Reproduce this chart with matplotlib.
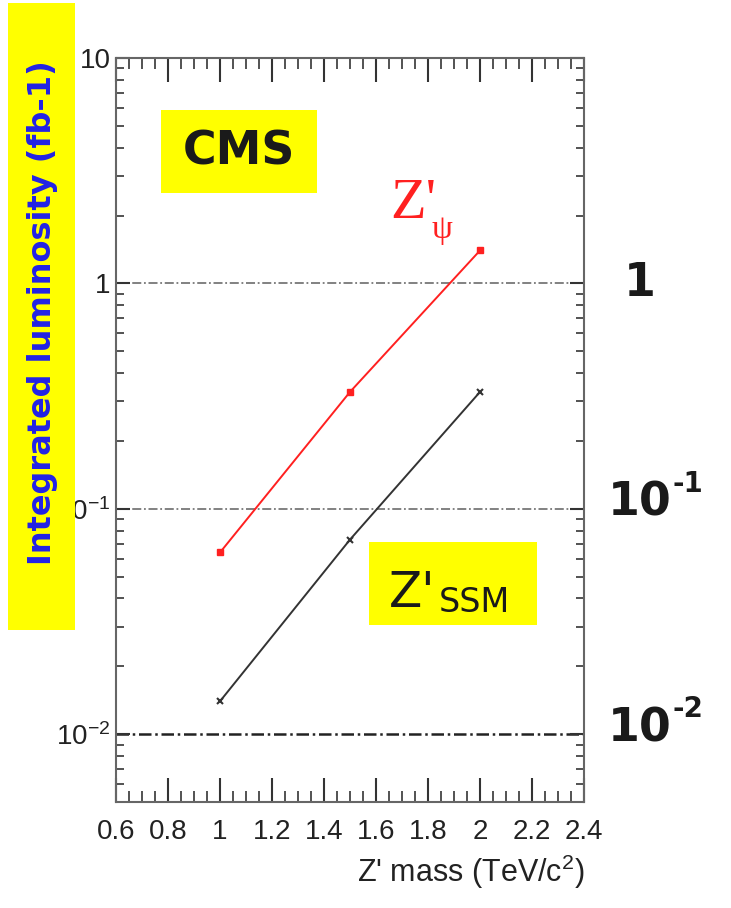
import matplotlib
matplotlib.use("Agg")
import matplotlib.pyplot as plt
from matplotlib.patches import Rectangle
from matplotlib.ticker import FixedLocator, MultipleLocator, LogLocator, NullFormatter

# data
mass = [1.0, 1.5, 2.0]
lumi_psi = [0.064, 0.33, 1.40]
lumi_ssm = [0.014, 0.073, 0.33]

ref_levels = [1, 0.1, 0.01]
ytick_vals = [10, 1, 0.1, 0.01]
ytick_text = ["10", "1", "$10^{-1}$", "$10^{-2}$"]
xtick_vals = [0.6, 0.8, 1.0, 1.2, 1.4, 1.6, 1.8, 2.0, 2.2, 2.4]
xtick_text = ["0.6", "0.8", "1", "1.2", "1.4", "1.6", "1.8", "2", "2.2", "2.4"]

plt.rcParams['font.family'] = ['Liberation Sans', 'DejaVu Sans']
plt.rcParams['mathtext.default'] = 'regular'

fig = plt.figure(figsize=(7.31, 9.08), dpi=100)
ax = fig.add_axes([0.1587, 0.1167, 0.6402, 0.8194])

ax.set_yscale('log')
ax.set_xlim(0.6, 2.4)
ax.set_ylim(0.005, 10)

# reference lines
for lv in ref_levels:
    col = '#222222' if lv == 0.01 else '#777777'
    lw = 1.8 if lv == 0.01 else 1.3
    ax.axhline(lv, color=col, lw=lw, ls=(0, (5, 1.5, 1, 1.5)), zorder=1)

ax.plot(mass, lumi_psi, color='#ff2020', lw=1.4, marker='s', ms=5, zorder=3)
ax.plot(mass, lumi_ssm, color='#333333', lw=1.4, marker='x', ms=5, mew=1.5, zorder=3)

# ticks
ax.xaxis.set_major_locator(FixedLocator(xtick_vals))
ax.set_xticklabels(xtick_text)
ax.xaxis.set_minor_locator(MultipleLocator(0.05))
ax.yaxis.set_major_locator(FixedLocator(ytick_vals))
ax.set_yticklabels(ytick_text)
ax.yaxis.set_minor_locator(LogLocator(base=10, subs=range(2, 10)))
ax.yaxis.set_minor_formatter(NullFormatter())

ax.tick_params(axis='x', which='major', direction='in', top=True, length=17, width=1.5,
               labelsize=20, pad=12, colors='#333333', labelcolor='#222222')
ax.tick_params(axis='x', which='minor', direction='in', top=True, length=8, width=1.3, colors='#444444')
ax.tick_params(axis='y', which='major', direction='in', right=True, length=10, width=1.5,
               labelsize=20, pad=4, colors='#333333', labelcolor='#222222')
ax.tick_params(axis='y', which='minor', direction='in', right=True, length=6, width=1.3, colors='#444444')
for sp in ax.spines.values():
    sp.set_color('#666666')
    sp.set_linewidth(1.5)

ax.set_xlabel("Z' mass (TeV/c$^2$)", fontsize=22, color='#222222', loc='right', labelpad=6)

# CMS box
ax.add_patch(Rectangle((0.0962, 0.8185), 0.3333, 0.1116, transform=ax.transAxes,
                       facecolor='#ffff00', edgecolor='none', zorder=4))
ax.text(0.263, 0.874, "CMS", transform=ax.transAxes, ha='center', va='center',
        fontsize=33, fontweight='bold', family='DejaVu Sans', color='#1a1a1a', zorder=5)

# Z'_psi label
ax.text(0.585, 0.785, "Z'", transform=ax.transAxes, fontsize=42, family='Liberation Serif',
        color='#ff2020', zorder=5)
ax.text(0.675, 0.758, "ψ", transform=ax.transAxes, fontsize=24, family='Liberation Serif',
        color='#ff2020', zorder=5)

# Z'_SSM box
ax.add_patch(Rectangle((0.5406, 0.2379), 0.359, 0.1116, transform=ax.transAxes,
                       facecolor='#ffff00', edgecolor='none', zorder=4))
ax.text(0.583, 0.262, "Z'", transform=ax.transAxes, fontsize=35, family='DejaVu Sans',
        color='#1a1a1a', zorder=5)
ax.text(0.690, 0.255, "SSM", transform=ax.transAxes, fontsize=24, family='DejaVu Sans',
        color='#1a1a1a', zorder=5)

# right-hand decade labels
ax.annotate("1", xy=(1.12, 1), xycoords=('axes fraction', 'data'), ha='center', va='center',
            fontsize=33, fontweight='bold', family='DejaVu Sans', color='#1a1a1a',
            annotation_clip=False)
for lv, sup in [(0.1, "-1"), (0.01, "-2")]:
    ax.annotate("10", xy=(1.05, lv), xycoords=('axes fraction', 'data'), ha='left', va='center',
                xytext=(0, 4), textcoords='offset points',
                fontsize=33, fontweight='bold', family='DejaVu Sans', color='#1a1a1a',
                annotation_clip=False)
    ax.annotate(sup, xy=(1.05, lv), xycoords=('axes fraction', 'data'), ha='left', va='bottom',
                xytext=(47, 8), textcoords='offset points',
                fontsize=20, fontweight='bold', family='DejaVu Sans', color='#1a1a1a',
                annotation_clip=False)

# y label on yellow strip
fig.patches.append(Rectangle((0.0109, 0.3062), 0.0917, 0.6905, transform=fig.transFigure,
                             facecolor='#ffff00', edgecolor='none', zorder=5))
fig.text(0.0575, 0.656, "Integrated luminosity (fb-1)", rotation=90, ha='center', va='center',
         fontsize=23, fontweight='bold', family='DejaVu Sans', color='#2222e6', zorder=6)

fig.savefig("out.png", dpi=100)
